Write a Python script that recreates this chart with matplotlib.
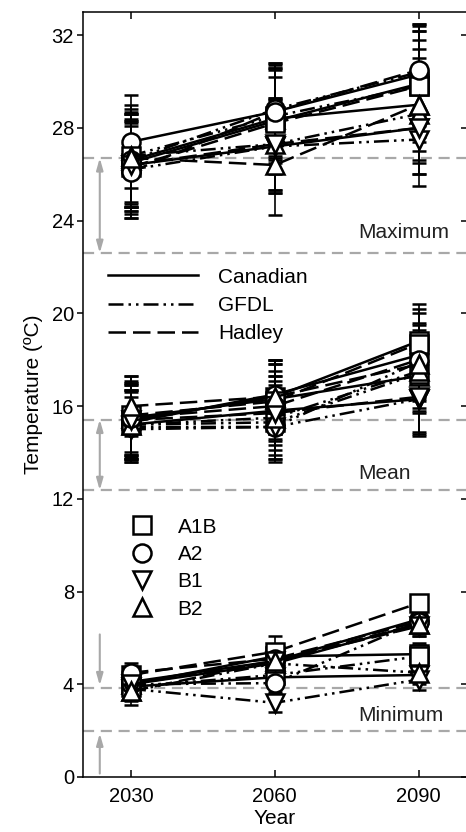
import matplotlib
matplotlib.use("Agg")
import matplotlib.pyplot as plt
from matplotlib.lines import Line2D

plt.rcParams['font.family'] = ['Liberation Sans', 'DejaVu Sans']

years = [2030, 2060, 2090]
models = ['Canadian', 'GFDL', 'Hadley']
scenarios = ['A1B', 'A2', 'B1', 'B2']

# rows: A1B, A2, B1, B2 ; columns: 2030, 2060, 2090
tmax_canadian = [[26.5, 28.3, 29.9], [27.4, 28.7, 30.3], [26.4, 27.2, 28.0], [26.6, 28.4, 29.0]]
tmax_gfdl = [[26.8, 28.5, 29.8], [26.6, 28.8, 30.4], [26.2, 27.2, 27.5], [26.8, 27.3, 28.6]]
tmax_hadley = [[26.3, 28.2, 29.8], [26.1, 28.7, 30.5], [26.4, 27.3, 28.0], [26.7, 26.4, 29.0]]
tmax_canadian_sd = [[2.1, 2.3, 2.3], [2.0, 2.0, 2.2], [1.8, 2.0, 2.0], [2.0, 2.2, 2.4]]
tmax_gfdl_sd = [[2.2, 2.0, 2.4], [2.0, 2.0, 2.0], [2.1, 2.0, 2.0], [2.0, 2.0, 2.1]]
tmax_hadley_sd = [[2.0, 2.0, 2.0], [2.0, 2.1, 2.0], [2.0, 2.0, 2.0], [2.0, 2.15, 2.0]]

tmean_canadian = [[15.4, 16.4, 18.8], [15.3, 16.5, 18.2], [15.2, 15.8, 16.3], [15.5, 16.3, 17.3]]
tmean_gfdl = [[15.2, 15.3, 17.4], [15.1, 15.1, 17.9], [15.0, 15.1, 16.3], [15.2, 15.5, 17.5]]
tmean_hadley = [[15.6, 16.2, 18.7], [15.5, 16.0, 18.0], [15.4, 15.7, 16.4], [16.0, 16.4, 17.8]]
tmean_canadian_sd = [[1.6, 1.6, 1.6], [1.6, 1.5, 1.8], [1.5, 1.5, 1.5], [1.5, 1.5, 1.6]]
tmean_gfdl_sd = [[1.5, 1.6, 1.6], [1.5, 1.4, 1.7], [1.4, 1.5, 1.6], [1.5, 1.6, 1.6]]
tmean_hadley_sd = [[1.7, 1.6, 1.5], [1.6, 1.5, 1.5], [1.5, 1.6, 1.5], [1.3, 1.6, 1.5]]

tmin_canadian = [[4.0, 5.2, 5.3], [4.1, 5.0, 6.8], [3.9, 4.3, 4.4], [4.0, 4.9, 6.6]]
tmin_gfdl = [[3.9, 4.4, 5.2], [4.0, 4.05, 6.7], [3.8, 3.2, 4.2], [3.7, 4.9, 4.5]]
tmin_hadley = [[4.4, 5.4, 7.5], [4.5, 5.1, 6.7], [4.0, 5.0, 6.5], [3.7, 5.0, 6.6]]
tmin_canadian_sd = [[0.4, 0.5, 0.5], [0.4, 0.5, 0.5], [0.4, 0.4, 0.4], [0.4, 0.5, 0.5]]
tmin_gfdl_sd = [[0.4, 0.4, 0.5], [0.4, 0.4, 0.5], [0.4, 0.4, 0.45], [0.4, 0.4, 0.4]]
tmin_hadley_sd = [[0.4, 0.7, 0.3], [0.4, 0.5, 0.4], [0.4, 0.5, 0.4], [0.6, 0.5, 0.4]]

# baseline ranges (grey dashed lines)
baseline_max = [26.7, 22.6]
baseline_mean = [15.42, 12.37]
baseline_min = [3.85, 1.98]
panel_labels = ['Maximum', 'Mean', 'Minimum']
panel_label_y = [23.47, 13.11, 2.67]

model_styles = {
    'Canadian': '-',
    'GFDL': (0, (6, 2, 1, 2, 1, 2)),
    'Hadley': (0, (7.0, 2.8)),
}
scen_markers = {'A1B': 's', 'A2': 'o', 'B1': 'v', 'B2': '^'}

data = [
    (tmax_canadian, tmax_canadian_sd, 'Canadian'),
    (tmax_gfdl, tmax_gfdl_sd, 'GFDL'),
    (tmax_hadley, tmax_hadley_sd, 'Hadley'),
    (tmean_canadian, tmean_canadian_sd, 'Canadian'),
    (tmean_gfdl, tmean_gfdl_sd, 'GFDL'),
    (tmean_hadley, tmean_hadley_sd, 'Hadley'),
    (tmin_canadian, tmin_canadian_sd, 'Canadian'),
    (tmin_gfdl, tmin_gfdl_sd, 'GFDL'),
    (tmin_hadley, tmin_hadley_sd, 'Hadley'),
]

W, H = 466, 832
fig = plt.figure(figsize=(W / 100, H / 100), dpi=100)
ax = fig.add_axes([83 / W, 1 - 777 / H, (W - 83 + 0.5) / W, (777 - 12) / H])

grey = '#a8a8a8'
for ylev in baseline_max + baseline_mean + baseline_min:
    ax.axhline(ylev, color=grey, lw=1.6, ls=(0, (5, 3)), zorder=1)

arrow_kw = dict(color=grey, lw=1.5, shrinkA=0, shrinkB=0)
ax.annotate('', xy=(2023.5, baseline_max[1]), xytext=(2023.5, baseline_max[0]),
            arrowprops=dict(arrowstyle='<|-|>,head_length=0.7,head_width=0.2', **arrow_kw), zorder=1)
ax.annotate('', xy=(2023.5, baseline_mean[1]), xytext=(2023.5, baseline_mean[0]),
            arrowprops=dict(arrowstyle='<|-|>,head_length=0.7,head_width=0.2', **arrow_kw), zorder=1)
ax.annotate('', xy=(2023.5, baseline_min[0] + 0.1), xytext=(2023.5, 6.15),
            arrowprops=dict(arrowstyle='-|>,head_length=0.7,head_width=0.2', **arrow_kw), zorder=1)
ax.annotate('', xy=(2023.5, baseline_min[1] - 0.1), xytext=(2023.5, 0.15),
            arrowprops=dict(arrowstyle='-|>,head_length=0.7,head_width=0.2', **arrow_kw), zorder=1)

for vals, sds, model in data:
    for i, scen in enumerate(scenarios):
        ax.errorbar(years, vals[i], yerr=sds[i], color='k', ls=model_styles[model], lw=1.8,
                    marker=scen_markers[scen], ms=13, mfc='white', mec='k', mew=1.8,
                    ecolor='k', elinewidth=1.2, capsize=5, capthick=1.2, zorder=3)

for lab, ly in zip(panel_labels, panel_label_y):
    ax.text(2077.4, ly, lab, fontsize=15, va='center', ha='left', color='#222222')

ax.set_xlim(2020, 2100)
ax.set_ylim(0, 33)
ax.set_xticks(years)
ax.set_yticks([0, 4, 8, 12, 16, 20, 24, 28, 32])
ax.tick_params(axis='x', direction='in', top=True, length=5, width=1.1, labelsize=14.5, pad=7)
ax.tick_params(axis='y', direction='out', right=False, length=4.5, width=1.1, labelsize=14.5, pad=2)
sec = ax.secondary_yaxis('right')
sec.set_yticks([0, 4, 8, 12, 16, 20, 24, 28, 32])
sec.tick_params(direction='in', length=4.5, width=1.1, labelright=False)
for s in ax.spines.values():
    s.set_linewidth(1.1)
ax.set_xlabel('Year', fontsize=15, labelpad=2)
ax.set_ylabel('Temperature (ºC)', fontsize=15, labelpad=6)

line_handles = [Line2D([], [], color='k', lw=1.8, ls=model_styles[m]) for m in models]
leg1 = ax.legend(line_handles, models, loc='upper left', bbox_to_anchor=(0.065, 0.666),
                 frameon=False, fontsize=15, handlelength=4.3, handletextpad=1.0,
                 labelspacing=0.45, borderpad=0, borderaxespad=0)
ax.add_artist(leg1)
mark_handles = [Line2D([], [], color='k', ls='none', marker=scen_markers[s], ms=13,
                       mfc='white', mec='k', mew=1.8) for s in scenarios]
ax.legend(mark_handles, scenarios, loc='upper left', bbox_to_anchor=(0.111, 0.339),
          frameon=False, fontsize=15, handlelength=1.6, handletextpad=0.9,
          labelspacing=0.4, borderpad=0, borderaxespad=0)

fig.savefig('out.png', dpi=100)
